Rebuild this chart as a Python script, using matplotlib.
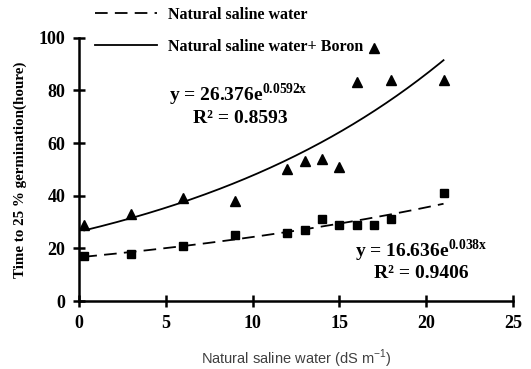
import numpy as np
import matplotlib.pyplot as plt

plt.rcParams['mathtext.fontset'] = 'custom'

# salinity levels (dS/m)
ec = [0.3, 3, 6, 9, 12, 13, 14, 15, 16, 17, 18, 21]
t_saline = [17, 18, 21, 25, 26, 27, 31, 29, 29, 29, 31, 41]
t_boron = [29, 33, 39, 38, 50, 53, 54, 51, 83, 96, 84, 84]

# exponential trendlines as printed on the chart
a_saline, b_saline = 16.636, 0.038
a_boron, b_boron = 26.376, 0.0592

serif = ['Liberation Serif', 'DejaVu Serif']

fig = plt.figure(figsize=(5.31, 3.69), dpi=100)
ax = fig.add_axes([0.149, 0.184, 0.817, 0.714])

xs = np.linspace(ec[0], ec[-1], 200)
ax.plot(xs, a_saline*np.exp(b_saline*xs), color='black', lw=1.3,
        dashes=(7, 4), label='Natural saline water')
ax.plot(xs, a_boron*np.exp(b_boron*xs), color='black', lw=1.3,
        label='Natural saline water+ Boron')
ax.plot(ec, t_saline, 's', color='black', ms=6, label='_nolegend_')
ax.plot(ec, t_boron, '^', color='black', ms=6.5, label='_nolegend_')

ax.set_xlim(0, 25)
ax.set_ylim(0, 100)
ax.set_xticks(range(0, 26, 5))
ax.set_yticks(range(0, 101, 20))
ax.spines['top'].set_visible(False)
ax.spines['right'].set_visible(False)
for s in ('left', 'bottom'):
    ax.spines[s].set_linewidth(1.8)
ax.tick_params(direction='inout', length=8, width=1.8, pad=6)
for lab in ax.get_xticklabels() + ax.get_yticklabels():
    lab.set_family(serif)
    lab.set_fontweight('bold')
    lab.set_fontsize(13)

ax.set_ylabel('Time to 25 % germination(houre)', family=serif,
              fontweight='bold', fontsize=10.8, labelpad=8)
ax.set_xlabel('Natural saline water (dS m$^{\\mathregular{-1}}$)',
              family=['Liberation Sans', 'DejaVu Sans'],
              fontsize=10.5, color='#404040', labelpad=11)

ax.text(9.2, 78.2, 'y = 26.376e$^{\\mathregular{0.0592x}}$', family=serif,
        fontweight='bold', fontsize=14, ha='center', va='center')
ax.text(9.3, 69.3, 'R² = 0.8593', family=serif, fontweight='bold',
        fontsize=14, ha='center', va='center')
ax.text(19.7, 19.0, 'y = 16.636e$^{\\mathregular{0.038x}}$', family=serif,
        fontweight='bold', fontsize=14, ha='center', va='center')
ax.text(19.7, 10.6, 'R² = 0.9406', family=serif, fontweight='bold',
        fontsize=14, ha='center', va='center')

fig.legend(loc='upper left', bbox_to_anchor=(95/531, 1 - 7/369),
           frameon=False, borderpad=0, borderaxespad=0,
           handlelength=3.9, handletextpad=0.7, labelspacing=1.0,
           prop={'family': serif, 'weight': 'bold', 'size': 11.5})

fig.savefig('out.png', dpi=100)
